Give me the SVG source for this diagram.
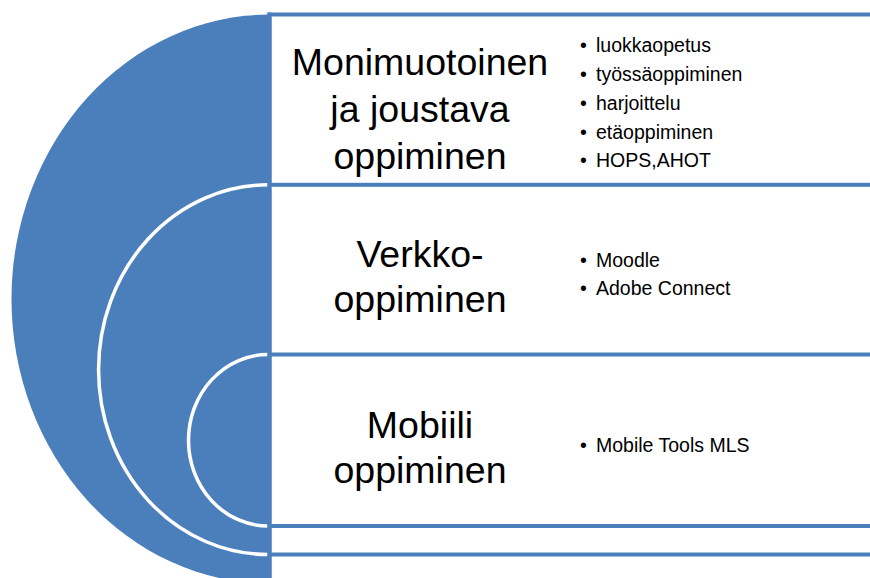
<svg xmlns="http://www.w3.org/2000/svg" width="870" height="578" viewBox="0 0 870 578">
<style>
.disc{fill:#4B7FBC;stroke:none}
.arc{fill:none;stroke:#FFFFFF;stroke-width:3.5}
.box{fill:#FFFFFF;stroke:#4B7FBC;stroke-width:4}
.title{font-family:"Liberation Sans",Arial,sans-serif;font-size:37.5px;fill:#000;text-anchor:middle}
.item{font-family:"Liberation Sans",Arial,sans-serif;font-size:19.5px;fill:#000}
</style>
<rect width="870" height="578" fill="#FFFFFF"/>
<g id="node1">
<path class="disc" d="M270 14.5 A258.5 284.5 0 0 0 270 583.5 Z"/>
<rect class="box" x="269.5" y="14.5" width="620" height="569"/>
<text class="title" x="420" y="75">Monimuotoinen</text>
<text class="title" x="420" y="122">ja joustava</text>
<text class="title" x="420" y="169">oppiminen</text>
<text class="item" x="580" y="52">•</text><text class="item" x="596" y="52">luokkaopetus</text>
<text class="item" x="580" y="81">•</text><text class="item" x="596" y="81">työssäoppiminen</text>
<text class="item" x="580" y="110">•</text><text class="item" x="596" y="110">harjoittelu</text>
<text class="item" x="580" y="139">•</text><text class="item" x="596" y="139">etäoppiminen</text>
<text class="item" x="580" y="167">•</text><text class="item" x="596" y="167">HOPS,AHOT</text>
</g>
<g id="node2">
<path class="disc" d="M270 184.8 A169.5 184.85 0 0 0 270 554.5 Z"/>
<path class="arc" d="M268 184.8 A169.5 184.85 0 0 0 268 554.5"/>
<rect class="box" x="269.5" y="184.8" width="620" height="369.7"/>
<text class="title" x="420" y="267">Verkko-</text>
<text class="title" x="420" y="312">oppiminen</text>
<text class="item" x="580" y="267">•</text><text class="item" x="596" y="267">Moodle</text>
<text class="item" x="580" y="295">•</text><text class="item" x="596" y="295">Adobe Connect</text>
</g>
<g id="node3">
<path class="disc" d="M270 354.5 A79.5 85.75 0 0 0 270 526 Z"/>
<path class="arc" d="M268 354.5 A79.5 85.75 0 0 0 268 526"/>
<rect class="box" x="269.5" y="354.5" width="620" height="171.5"/>
<text class="title" x="420" y="438">Mobiili</text>
<text class="title" x="420" y="483">oppiminen</text>
<text class="item" x="580" y="452">•</text><text class="item" x="596" y="452">Mobile Tools MLS</text>
</g>
<g id="connectors">
<line x1="269.5" y1="12.5" x2="269.5" y2="578" stroke="#4B7FBC" stroke-width="4"/>
</g>
</svg>
